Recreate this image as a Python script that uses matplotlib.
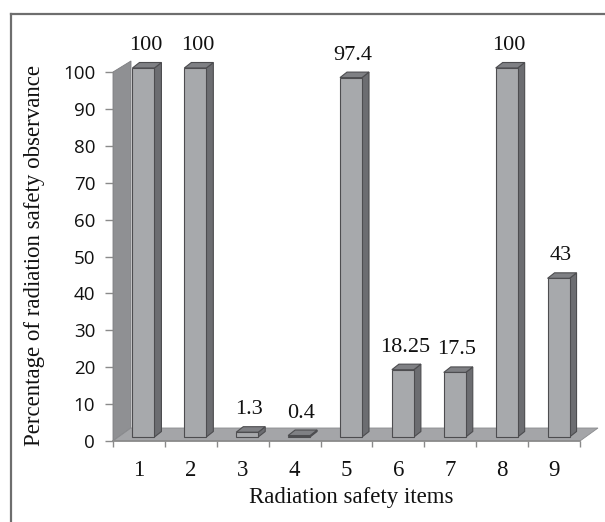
import matplotlib
matplotlib.use("Agg")
import matplotlib.pyplot as plt
from matplotlib.patches import Polygon
from matplotlib.lines import Line2D

# ---- data ----
categories = ["1", "2", "3", "4", "5", "6", "7", "8", "9"]
values = [100, 100, 1.3, 0.4, 97.4, 18.25, 17.5, 100, 43]
value_labels = ["100", "100", "1.3", "0.4", "97.4", "18.25", "17.5", "100", "43"]
yticks = [0, 10, 20, 30, 40, 50, 60, 70, 80, 90, 100]
xlabel = "Radiation safety items"
ylabel = "Percentage of radiation safety observance"

W, H = 605, 522
fig = plt.figure(figsize=(W / 100, H / 100), dpi=100)
fig.patch.set_facecolor("white")

# axes in pixel layout
L, R, T, B = 113, 580, 72, 441
ax = fig.add_axes([L / W, 1 - B / H, (R - L) / W, (B - T) / H])
ax.set_xlim(0.5, len(values) + 0.5)
ax.set_ylim(0, 100)
ax.patch.set_visible(False)
for s in ax.spines.values():
    s.set_visible(False)

pxx = (R - L) / len(values)     # px per category
pxy = (B - T) / 100.0           # px per value unit

def dx(px):
    return px / pxx

def dy(px):
    return px / pxy

# 3D geometry (in px, converted to data units)
depth_x, depth_y = 18, 13          # floor / wall depth
bar_off_x, bar_off_y = 4.5, 4      # bar front face offset
bar_dx, bar_dy = 7, 5.5            # bar depth
bar_w = 22                         # bar front width px

wall_c = "#8f9093"
floor_c = "#a4a5a8"
x0, x1 = 0.5, len(values) + 0.5

# wall
wall = Polygon([(x0, 0), (x0, 100), (x0 + dx(depth_x), 100 + dy(depth_y * 0.85)),
                (x0 + dx(depth_x), dy(depth_y))],
               closed=True, facecolor=wall_c, edgecolor="#7d7e81", lw=0.6,
               clip_on=False, zorder=1)
ax.add_patch(wall)
# floor
floor = Polygon([(x0, 0), (x1, 0), (x1 + dx(depth_x), dy(depth_y)),
                 (x0 + dx(depth_x), dy(depth_y))],
                closed=True, facecolor=floor_c, edgecolor="#8a8b8e", lw=0.6,
                clip_on=False, zorder=1)
ax.add_patch(floor)
ax.plot([x0, x1], [0, 0], color="#8a8a8a", lw=1.2, clip_on=False, zorder=2)

front_c = "#a7a9ac"
side_c = "#6c6d71"
top_c = "#7f8084"
edge_c = "#4d4d50"

for i, v in enumerate(values):
    xc = i + 1 + dx(bar_off_x)
    yb = dy(bar_off_y)
    hw = dx(bar_w) / 2
    xl, xr = xc - hw, xc + hw
    yt = v + yb
    ddx, ddy = dx(bar_dx), dy(bar_dy)
    # side
    ax.add_patch(Polygon([(xr, yb), (xr, yt), (xr + ddx, yt + ddy), (xr + ddx, yb + ddy)],
                         closed=True, facecolor=side_c, edgecolor=edge_c, lw=0.8,
                         clip_on=False, zorder=3))
    # top
    ax.add_patch(Polygon([(xl, yt), (xr, yt), (xr + ddx, yt + ddy), (xl + ddx, yt + ddy)],
                         closed=True, facecolor=top_c, edgecolor=edge_c, lw=0.8,
                         clip_on=False, zorder=3))
    # front
    ax.add_patch(Polygon([(xl, yb), (xr, yb), (xr, yt), (xl, yt)],
                         closed=True, facecolor=front_c, edgecolor=edge_c, lw=0.8,
                         clip_on=False, zorder=4))
    ax.text(xc + dx(2), yt + ddy + dy(17), value_labels[i], ha="center", va="center",
            fontsize=16, family="Liberation Serif", color="#111111", zorder=5)

# ticks
ax.set_yticks(yticks)
ax.set_yticklabels([str(t) for t in yticks], family="Open Sans", fontsize=13.5, color="#111111")
ax.tick_params(axis="y", length=5.8, width=1, color="#8a8a8a", pad=7)
ax.set_xticks(range(1, len(values) + 1))
ax.set_xticklabels(categories, family="Liberation Serif", fontsize=16.5, color="#111111")
ax.tick_params(axis="x", which="major", length=0, pad=14)
ax.set_xticks([k + 0.5 for k in range(0, len(values) + 1)], minor=True)
ax.tick_params(axis="x", which="minor", length=4, width=1, color="#8a8a8a")

fig.text(351 / W, 1 - 497 / H, xlabel, ha="center", va="center",
         family="Liberation Serif", fontsize=16.5, color="#111111")
fig.text(35 / W, 1 - 255 / H, ylabel, ha="center", va="center", rotation=90,
         family="Liberation Serif", fontsize=16.5, color="#111111")

# frame
fig.add_artist(Line2D([11 / W, 11 / W], [0, 1 - 14 / H], transform=fig.transFigure,
                      color="#6e6e6e", lw=1.6))
fig.add_artist(Line2D([11 / W, 1], [1 - 14 / H, 1 - 14 / H], transform=fig.transFigure,
                      color="#6e6e6e", lw=1.6))

fig.savefig("out.png", dpi=100, facecolor="white")
